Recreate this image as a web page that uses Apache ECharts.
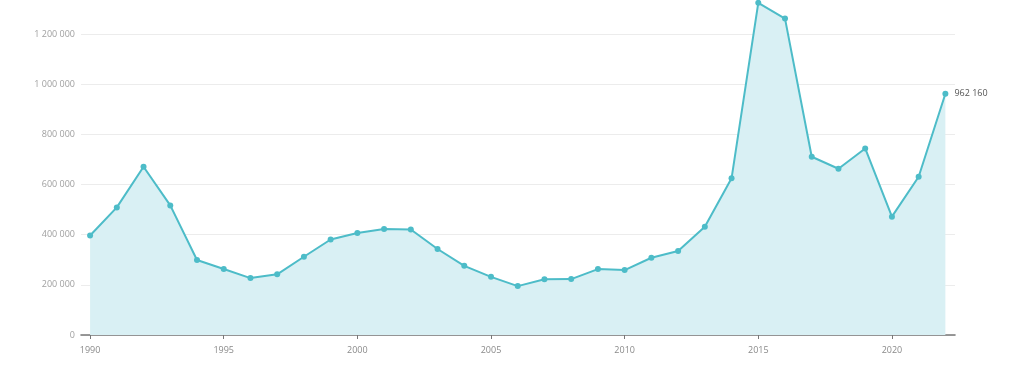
<!DOCTYPE html>
<html>
<head>
<meta charset="utf-8">
<script src="https://cdn.jsdelivr.net/npm/echarts@6/dist/echarts.min.js"></script>
<style>
html,body{margin:0;padding:0;background:#fff;}
#chart{width:1024px;height:384px;}
</style>
</head>
<body>
<div id="chart"></div>
<script>
var years = [1990,1991,1992,1993,1994,1995,1996,1997,1998,1999,2000,2001,2002,2003,2004,2005,2006,2007,2008,2009,2010,2011,2012,2013,2014,2015,2016,2017,2018,2019,2020,2021,2022];
var values = [397000,509000,671000,517000,299000,263000,227000,242000,312000,381000,407000,423000,421000,343000,276000,232000,195000,222000,223000,263000,259000,308000,335000,432000,625000,1325000,1262000,711000,663000,744000,472000,631000,962160];
var xTickYears = [1990,1995,2000,2005,2010,2015,2020];

function fmt(v){
  return String(Math.round(v)).replace(/\B(?=(\d{3})+(?!\d))/g, ' ');
}

var data = years.map(function(y,i){ return [y, values[i]]; });
var lastIdx = data.length - 1;

var chart = echarts.init(document.getElementById('chart'), null, {renderer:'canvas'});
chart.setOption({
  animation:false,
  backgroundColor:'#ffffff',
  grid:{left:81, right:69, top:-16, bottom:49, containLabel:false, outerBoundsMode:'none'},
  xAxis:{
    type:'value',
    min:1989.66, max:2022.36,
    splitLine:{show:false},
    axisLine:{show:true, onZero:false, lineStyle:{color:'#777777', width:1.6}},
    axisTick:{show:true, customValues:xTickYears, length:4, lineStyle:{color:'#777777'}},
    axisLabel:{customValues:xTickYears, color:'#8a8a8a', fontSize:9, fontFamily:'Open Sans', margin:11,
      formatter:function(v){return String(v);}}
  },
  yAxis:{
    type:'value',
    min:0, max:1400000, interval:200000,
    axisLine:{show:false},
    axisTick:{show:false},
    splitLine:{show:true, lineStyle:{color:'#ececec', width:1}},
    axisLabel:{color:'#a0a0a0', fontSize:9, fontFamily:'Open Sans', margin:6,
      formatter:function(v){return fmt(v);}}
  },
  series:[{
    type:'line',
    data:data.map(function(d,i){
      if(i===lastIdx){
        return {value:d, label:{show:true, position:'right', distance:6, color:'#555', fontSize:9, fontFamily:'Open Sans',
          formatter:function(p){return fmt(p.value[1]);}}};
      }
      return d;
    }),
    symbol:'circle',
    symbolSize:6,
    showAllSymbol:true,
    clip:false,
    lineStyle:{color:'#4dbcc8', width:2},
    itemStyle:{color:'#4dbcc8'},
    areaStyle:{color:'#d9f0f4', opacity:1}
  }]
});
</script>
</body>
</html>
